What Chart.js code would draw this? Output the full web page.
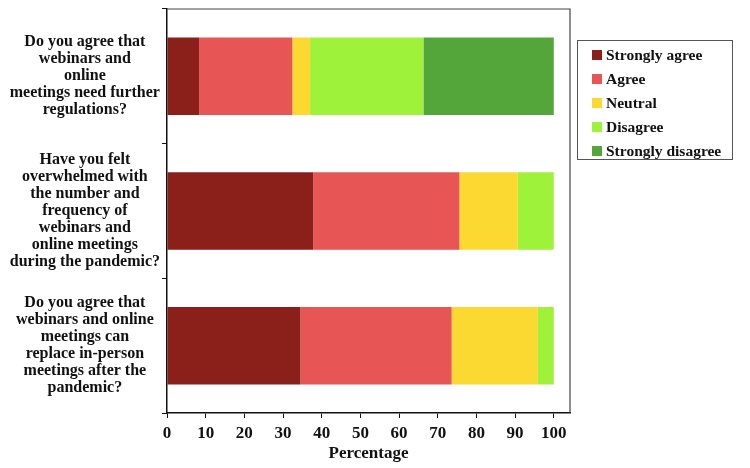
<!DOCTYPE html>
<html>
<head>
<meta charset="utf-8">
<script src="https://cdn.jsdelivr.net/npm/chart.js@4/dist/chart.umd.min.js"></script>
<style>
  body { margin: 0; background: #fff; }
  #wrap { position: relative; width: 750px; height: 468px; }
  #legend {
    position: absolute; left: 577px; top: 40px; width: 156px; height: 120px;
    border: 1px solid #555; box-sizing: border-box; padding-top: 2px;
    font: bold 15.5px "Liberation Serif", serif; color: #111;
  }
  .item { height: 24px; display: flex; align-items: center; padding-left: 14px; }
  .sw { width: 10px; height: 10px; margin-right: 4px; }
</style>
</head>
<body>
<div id="wrap">
  <canvas id="myChart" width="750" height="468"></canvas>
  <div id="legend"></div>
</div>
<script>
const questions = [
    ["Do you agree that", "webinars and", "online", "meetings need further", "regulations?"],
    ["Have you felt", "overwhelmed with", "the number and", "frequency of", "webinars and", "online meetings", "during the pandemic?"],
    ["Do you agree that", "webinars and online", "meetings can", "replace in-person", "meetings after the", "pandemic?"]
];
const answers = ["Strongly agree", "Agree", "Neutral", "Disagree", "Strongly disagree"];
const stronglyAgree = [8.3, 37.8, 34.5];
const agree = [24.1, 37.8, 39.1];
const neutral = [4.6, 15.1, 22.3];
const disagree = [29.3, 9.3, 4.1];
const stronglyDisagree = [33.7, 0, 0];
const xTicks = [0, 10, 20, 30, 40, 50, 60, 70, 80, 90, 100];

const barColors = ["#8b1f1a", "#e85555", "#fbd930", "#9ef23a", "#55a63a"];
const series = [stronglyAgree, agree, neutral, disagree, stronglyDisagree];

const serif = "'Liberation Serif', 'Times New Roman', serif";

// frame on top and right of plot
const frame = {
    id: "frame",
    afterDraw(chart) {
        const a = chart.chartArea, ctx = chart.ctx;
        ctx.save();
        ctx.strokeStyle = "#444";
        ctx.lineWidth = 1.2;
        ctx.beginPath();
        ctx.moveTo(a.left, a.top);
        ctx.lineTo(a.right, a.top);
        ctx.lineTo(a.right, a.bottom);
        ctx.stroke();
        ctx.restore();
    }
};

new Chart("myChart", {
    type: "bar",
    data: {
        labels: questions,
        datasets: answers.map((name, i) => ({
            label: name,
            data: series[i],
            backgroundColor: barColors[i],
            borderWidth: 0,
            categoryPercentage: 0.8,
            barPercentage: 0.72
        }))
    },
    options: {
        indexAxis: "y",
        responsive: false,
        animation: false,
        layout: { padding: { top: 9, right: 180, left: 0, bottom: 0 } },
        plugins: { legend: { display: false }, tooltip: { enabled: false } },
        scales: {
            x: {
                stacked: true,
                min: 0,
                max: 104.2,
                afterBuildTicks: (axis) => { axis.ticks = xTicks.map(v => ({ value: v })); },
                afterFit: (axis) => { axis.height = 55; axis.paddingLeft = 0; axis.paddingRight = 0; },
                grid: { drawOnChartArea: false, tickLength: 5, color: "#111" },
                border: { color: "#111", width: 1.5 },
                ticks: { color: "#111", padding: 5, font: { family: serif, size: 17, weight: "bold" } },
                title: {
                    display: true, text: "Percentage", color: "#111", padding: { top: 5 },
                    font: { family: serif, size: 17, weight: "bold" }
                }
            },
            y: {
                stacked: true,
                afterFit: (axis) => { axis.width = 167; axis.paddingTop = 0; axis.paddingBottom = 0; },
                grid: { drawOnChartArea: false, offset: true, tickLength: 5, color: "#111" },
                border: { color: "#111", width: 1.5 },
                ticks: {
                    color: "#111", padding: 2, crossAlign: "center", autoSkip: false,
                    font: { family: serif, size: 16, weight: "bold", lineHeight: "17px" }
                }
            }
        }
    },
    plugins: [frame]
});

const legend = document.getElementById("legend");
answers.forEach((name, i) => {
    const row = document.createElement("div");
    row.className = "item";
    row.innerHTML = '<span class="sw" style="background:' + barColors[i] + '"></span>' + name;
    legend.appendChild(row);
});
</script>
</body>
</html>
